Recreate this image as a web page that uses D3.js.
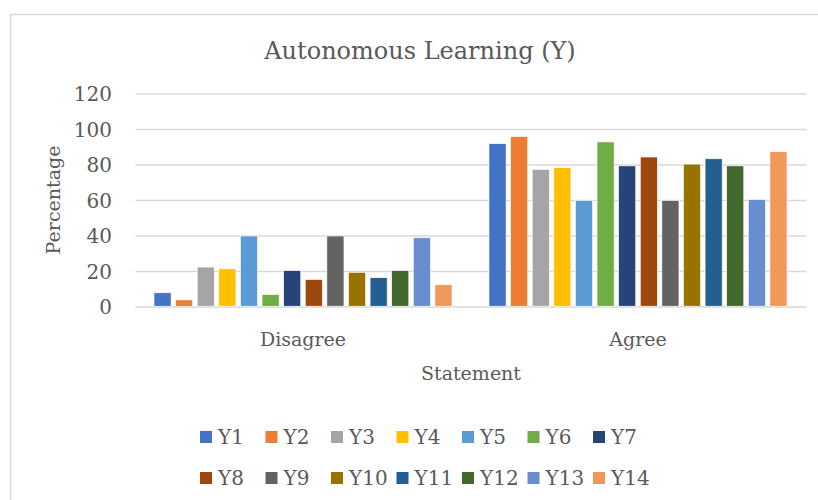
<!DOCTYPE html>
<html>
<head>
<meta charset="utf-8">
<script src="https://cdn.jsdelivr.net/npm/d3@7"></script>
<style>
  body { margin: 0; background: #fff; }
  text { font-family: "DejaVu Serif", serif; fill: #595959; }
</style>
</head>
<body>
<div id="viz"></div>
<script>
// data
var categories = ['Disagree', 'Agree'];
var seriesNames = ['Y1', 'Y2', 'Y3', 'Y4', 'Y5', 'Y6', 'Y7', 'Y8', 'Y9', 'Y10', 'Y11', 'Y12', 'Y13', 'Y14'];
var disagreeValues = [8, 4, 22.5, 21.5, 40, 7, 20.5, 15.5, 40, 19.5, 16.5, 20.5, 39, 12.5];
var agreeValues = [92, 96, 77.5, 78.5, 60, 93, 79.5, 84.5, 60, 80.5, 83.5, 79.5, 60.5, 87.5];
var yTicks = [0, 20, 40, 60, 80, 100, 120];
var colors = ['#4472C4', '#ED7D31', '#A5A5A5', '#FFC000', '#5B9BD5', '#70AD47', '#264478',
              '#9E480E', '#636363', '#997300', '#255E91', '#43682B', '#698ED0', '#F1975A'];

var valuesByCat = [disagreeValues, agreeValues];

var W = 818, H = 500;
var plot = {left: 135.5, right: 805.5, top: 94, bottom: 307};

var svg = d3.select('#viz').append('svg')
    .attr('width', W)
    .attr('height', H);

// chart area border
svg.append('rect')
    .attr('x', 10.5).attr('y', 14.5)
    .attr('width', 830).attr('height', 520)
    .attr('fill', '#fff')
    .attr('stroke', '#d9d9d9')
    .attr('stroke-width', 1.5);

var yScale = d3.scaleLinear()
    .domain([0, 120])
    .range([plot.bottom, plot.top]);

var xScale = d3.scaleBand()
    .domain(categories)
    .range([plot.left, plot.right])
    .padding(0);

var xInner = d3.scaleBand()
    .domain(seriesNames)
    .range([18.5, xScale.bandwidth() - 18.5])
    .paddingInner(0.21)
    .paddingOuter(0);

// gridlines
svg.append('g')
  .selectAll('line')
  .data(yTicks)
  .join('line')
    .attr('x1', plot.left)
    .attr('x2', plot.right + 1)
    .attr('y1', function(d) { return yScale(d) })
    .attr('y2', function(d) { return yScale(d) })
    .attr('stroke', '#d9d9d9')
    .attr('stroke-width', 1.6);

// y tick labels
svg.append('g')
  .selectAll('text')
  .data(yTicks)
  .join('text')
    .attr('x', 112)
    .attr('y', function(d) { return yScale(d) })
    .attr('dy', '0.36em')
    .attr('text-anchor', 'end')
    .style('font-size', '20px')
    .text(function(d) { return d });

// bars
var groups = svg.append('g')
  .selectAll('g')
  .data(categories)
  .join('g')
    .attr('transform', function(d) { return 'translate(' + xScale(d) + ',0)' });

groups.selectAll('rect')
  .data(function(d, i) {
      return seriesNames.map(function(s, j) { return {name: s, value: valuesByCat[i][j], color: colors[j]} })
    })
  .join('rect')
    .attr('x', function(d) { return xInner(d.name) })
    .attr('y', function(d) { return yScale(d.value) })
    .attr('width', xInner.bandwidth())
    .attr('height', function(d) { return yScale(0) - yScale(d.value) - 0.8 })
    .attr('fill', function(d) { return d.color })
    .attr('stroke', '#fff')
    .attr('stroke-width', 0.6);

// category labels
svg.append('g')
  .selectAll('text')
  .data(categories)
  .join('text')
    .attr('x', function(d) { return xScale(d) + xScale.bandwidth() / 2 })
    .attr('y', 346)
    .attr('text-anchor', 'middle')
    .style('font-size', '19px')
    .text(function(d) { return d });

// titles
svg.append('text')
    .attr('x', 420).attr('y', 59)
    .attr('text-anchor', 'middle')
    .style('font-size', '24px')
    .text('Autonomous Learning (Y)');

svg.append('text')
    .attr('x', 471).attr('y', 380)
    .attr('text-anchor', 'middle')
    .style('font-size', '19px')
    .text('Statement');

svg.append('text')
    .attr('transform', 'translate(60,200) rotate(-90)')
    .attr('text-anchor', 'middle')
    .style('font-size', '19px')
    .text('Percentage');

// legend, two rows of seven
var legend = svg.append('g')
  .selectAll('g')
  .data(seriesNames)
  .join('g')
    .attr('transform', function(d, i) {
        return 'translate(' + (200 + (i % 7) * 65.5) + ',' + (i < 7 ? 437 : 478) + ')'
      });

legend.append('rect')
    .attr('x', 0).attr('y', -6)
    .attr('width', 12).attr('height', 12)
    .attr('fill', function(d, i) { return colors[i] });

legend.append('text')
    .attr('x', 18)
    .attr('dy', '0.36em')
    .style('font-size', '20px')
    .text(function(d) { return d });
</script>
</body>
</html>
